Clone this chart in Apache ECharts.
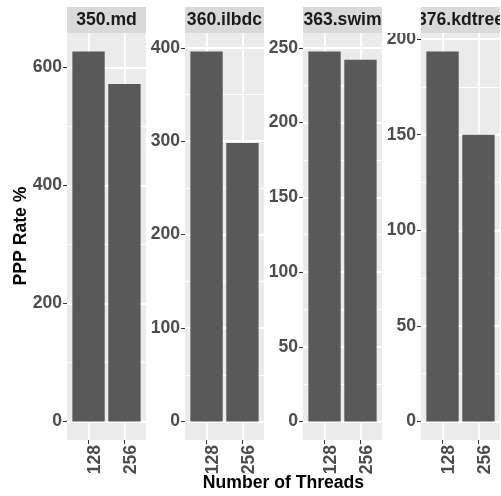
<!DOCTYPE html>
<html><head><meta charset="utf-8">
<script src="https://cdn.jsdelivr.net/npm/echarts@6/dist/echarts.min.js"></script>
<style>html,body{margin:0;padding:0;background:#fff}#c{width:501px;height:496px}</style>
</head><body><div id="c"></div>
<script>
const benchmarks = ['350.md', '360.ilbdc', '363.swim', '376.kdtree'];
const threads = ['128', '256'];
const rate128 = [627, 396, 247.5, 193.5];
const rate256 = [572, 298, 242, 150];
const yTicks = [
  [0, 200, 400, 600],
  [0, 100, 200, 300, 400],
  [0, 50, 100, 150, 200, 250],
  [0, 50, 100, 150, 200]
];
const xTitle = 'Number of Threads';
const yTitle = 'PPP Rate %';

const FONT = '"Liberation Sans", Arial, Helvetica, sans-serif';
const FS = 17.6;
const panelLeft = [67, 185, 303, 421];
const panelW = 79, panelTop = 33, panelH = 407, stripTop = 7, stripH = 26;
const xMin = 0.4, xMax = 2.6;
const unitPx = panelW / (xMax - xMin);
const barW = 0.9 * unitPx;
const xPos = threads.map((t, k) => k + 1);
// rotated tick labels sit just right of their tick (glyph starts at the tick)
const labelShift = 7 / unitPx;
const xLabelPos = xPos.map(v => v + labelShift);

const grids = [], xAxes = [], yAxes = [], series = [], graphics = [];
const labelStyle = { fontSize: FS, fontWeight: 'bold', color: '#4D4D4D', fontFamily: FONT };
const tickStyle = { color: '#333333', width: 1 };

benchmarks.forEach((b, i) => {
  const vals = [rate128[i], rate256[i]];
  const top = Math.max(...vals);
  const ticks = yTicks[i];
  const step = ticks[1] - ticks[0];
  const minor = ticks.map(v => v + step / 2).filter(v => v < top * 1.05);

  grids.push({ left: panelLeft[i], top: panelTop, width: panelW, height: panelH,
    show: true, backgroundColor: '#EBEBEB', borderWidth: 0 });

  xAxes.push({ type: 'value', gridIndex: i, min: xMin, max: xMax,
    axisLine: { show: false, onZero: false }, splitLine: { show: false },
    axisTick: { show: true, customValues: xPos, length: 4, lineStyle: tickStyle },
    axisLabel: Object.assign({ customValues: xLabelPos, rotate: 90, margin: 5,
      formatter: v => threads[Math.round(v - labelShift) - 1] }, labelStyle) });

  yAxes.push({ type: 'value', gridIndex: i, min: -0.05 * top, max: 1.05 * top,
    axisLine: { show: false, onZero: false }, splitLine: { show: false },
    axisTick: { show: true, customValues: ticks, length: 4, lineStyle: tickStyle },
    axisLabel: Object.assign({ customValues: ticks, margin: 5 }, labelStyle) });

  const gl = [];
  minor.forEach(v => gl.push({ yAxis: v, lineStyle: { color: '#FFFFFF', width: 1, type: 'solid' } }));
  ticks.forEach(v => gl.push({ yAxis: v, lineStyle: { color: '#FFFFFF', width: 2, type: 'solid' } }));
  xPos.forEach(v => gl.push({ xAxis: v, lineStyle: { color: '#FFFFFF', width: 2, type: 'solid' } }));

  series.push({ type: 'line', xAxisIndex: i, yAxisIndex: i, data: [], z: 0, silent: true,
    markLine: { silent: true, z: 0, zlevel: 0, symbol: ['none', 'none'], label: { show: false }, animation: false,
      emphasis: { disabled: true }, data: gl } });

  series.push({ type: 'bar', xAxisIndex: i, yAxisIndex: i, z: 10, silent: true,
    data: vals.map((v, k) => [xPos[k], v]), barWidth: barW,
    itemStyle: { color: '#595959' } });

  graphics.push({ type: 'rect', z: 1, shape: { x: panelLeft[i], y: stripTop, width: panelW, height: stripH },
    style: { fill: '#D9D9D9' } });
  graphics.push({ type: 'text', z: 2, x: panelLeft[i] + panelW / 2, y: stripTop + stripH / 2 + 0.5,
    style: { text: b, fill: '#1A1A1A', font: `bold ${FS}px ${FONT}`,
      align: 'center', verticalAlign: 'middle', textAlign: 'center', textVerticalAlign: 'middle' } });
});

// white covers clipping strip text to its panel
const gaps = [[0, panelLeft[0]]];
for (let i = 0; i < panelLeft.length - 1; i++) gaps.push([panelLeft[i] + panelW, panelLeft[i + 1]]);
gaps.push([panelLeft[3] + panelW, 501]);
gaps.forEach(g => graphics.push({ type: 'rect', z: 3,
  shape: { x: g[0], y: 0, width: g[1] - g[0], height: panelTop }, style: { fill: '#FFFFFF' } }));

graphics.push({ type: 'text', z: 4, x: 283.5, y: 483,
  style: { text: xTitle, fill: '#000000', font: `bold ${FS}px ${FONT}`,
    align: 'center', verticalAlign: 'middle', textAlign: 'center', textVerticalAlign: 'middle' } });
graphics.push({ type: 'text', z: 4, x: 21, y: 236, rotation: Math.PI / 2,
  style: { text: yTitle, fill: '#000000', font: `bold ${FS}px ${FONT}`,
    align: 'center', verticalAlign: 'middle', textAlign: 'center', textVerticalAlign: 'middle' } });

const chart = echarts.init(document.getElementById('c'), null, { renderer: 'canvas' });
chart.setOption({
  animation: false,
  backgroundColor: '#FFFFFF',
  grid: grids, xAxis: xAxes, yAxis: yAxes, series: series,
  graphic: { elements: graphics }
});
</script></body></html>
